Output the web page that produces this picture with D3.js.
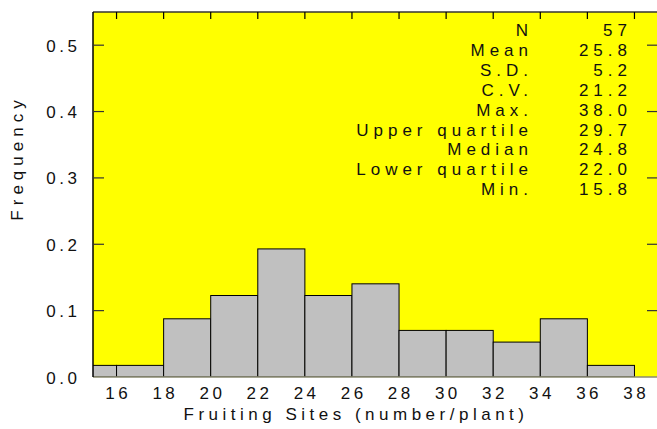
<!DOCTYPE html>
<html>
<head>
<meta charset="utf-8">
<script src="https://cdn.jsdelivr.net/npm/d3@7"></script>
<style>
  body { margin: 0; background: #fff; }
  svg { display: block; font-family: "Liberation Sans", Arial, sans-serif; }
</style>
</head>
<body>
<script>
// histogram bins (lower edges) and relative frequencies, N = 57
const binStart = [14, 16, 18, 20, 22, 24, 26, 28, 30, 32, 34, 36];
const binWidth = 2;
const freq = [0.0175, 0.0175, 0.0877, 0.1228, 0.193, 0.1228, 0.1404, 0.0702, 0.0702, 0.0526, 0.0877, 0.0175];
const xTicks = [16, 18, 20, 22, 24, 26, 28, 30, 32, 34, 36, 38];
const yTicks = [0, 0.1, 0.2, 0.3, 0.4, 0.5];
const statLabels = ["N", "Mean", "S.D.", "C.V.", "Max.", "Upper quartile", "Median", "Lower quartile", "Min."];
const statValues = ["57", "25.8", "5.2", "21.2", "38.0", "29.7", "24.8", "22.0", "15.8"];

const W = 657, H = 429;
const pL = 93, pR = 658, pT = 12, pB = 377;

const x = d3.scaleLinear().domain([15, 39]).range([pL, pR]);
const y = d3.scaleLinear().domain([0, 0.55]).range([pB, pT]);

const svg = d3.select("body").append("svg")
  .attr("width", W).attr("height", H);

svg.append("defs").append("clipPath").attr("id", "plot")
  .append("rect").attr("x", pL).attr("y", pT)
  .attr("width", pR - pL).attr("height", pB - pT);

svg.append("rect")
  .attr("x", pL).attr("y", pT)
  .attr("width", pR - pL).attr("height", pB - pT)
  .attr("fill", "#ffff00");

const bars = binStart.map((b, i) => ({ x0: b, x1: b + binWidth, f: freq[i] }));

svg.append("g").attr("clip-path", "url(#plot)")
  .selectAll("rect")
  .data(bars)
  .enter()
  .append("rect")
  .attr("x", d => x(d.x0))
  .attr("y", d => y(d.f))
  .attr("width", d => x(d.x1) - x(d.x0))
  .attr("height", d => y(0) - y(d.f))
  .attr("fill", "#c0c0c0")
  .attr("stroke", "#000")
  .attr("stroke-width", 1);

// frame lines
svg.append("line").attr("x1", pL).attr("x2", pR).attr("y1", pT).attr("y2", pT)
  .attr("stroke", "#333").attr("stroke-width", 1.5);
svg.append("line").attr("x1", pL).attr("x2", pR).attr("y1", pB).attr("y2", pB)
  .attr("stroke", "#8a8a70").attr("stroke-width", 1.5);
svg.append("line").attr("x1", pL).attr("x2", pL).attr("y1", pT).attr("y2", pB)
  .attr("stroke", "#000").attr("stroke-width", 1.5);

// top ticks (inward)
svg.append("g").selectAll("line").data(xTicks).enter().append("line")
  .attr("x1", d => x(d)).attr("x2", d => x(d))
  .attr("y1", pT).attr("y2", pT + 7)
  .attr("stroke", "#000").attr("stroke-width", 1.2);

// left and right ticks (inward)
svg.append("g").selectAll("line").data(yTicks.filter(d => d > 0)).enter().append("line")
  .attr("x1", pL).attr("x2", pL + 11)
  .attr("y1", d => y(d)).attr("y2", d => y(d))
  .attr("stroke", "#333").attr("stroke-width", 1.2);
svg.append("g").selectAll("line").data(yTicks.filter(d => d > 0)).enter().append("line")
  .attr("x1", pR - 11).attr("x2", pR)
  .attr("y1", d => y(d)).attr("y2", d => y(d))
  .attr("stroke", "#333").attr("stroke-width", 1.2);

const fs = 17;
const ls = 3.5;
svg.append("g").selectAll("text").data(yTicks).enter().append("text")
  .attr("x", 77 + ls).attr("y", d => y(d) + 6.5)
  .attr("text-anchor", "end")
  .attr("font-size", fs).attr("letter-spacing", ls)
  .attr("fill", "#111")
  .text(d => d3.format(".1f")(d));

svg.append("g").selectAll("text").data(xTicks).enter().append("text")
  .attr("x", d => x(d) + ls / 2).attr("y", 399)
  .attr("text-anchor", "middle")
  .attr("font-size", fs).attr("letter-spacing", ls)
  .attr("fill", "#111")
  .text(d => d);

svg.append("text")
  .attr("x", 356).attr("y", 420)
  .attr("text-anchor", "middle")
  .attr("font-size", fs).attr("letter-spacing", 4.5)
  .attr("fill", "#111")
  .text("Fruiting Sites (number/plant)");

svg.append("text")
  .attr("transform", "translate(23,158) rotate(-90)")
  .attr("text-anchor", "middle")
  .attr("font-size", fs).attr("letter-spacing", 5)
  .attr("fill", "#111")
  .text("Frequency");

// stats block
const sls = 5;
const stats = svg.append("g");
stats.selectAll("text.lab").data(statLabels).enter().append("text")
  .attr("class", "lab")
  .attr("x", 528 + sls).attr("y", (d, i) => 36 + i * 19.9)
  .attr("text-anchor", "end")
  .attr("font-size", fs).attr("letter-spacing", sls)
  .attr("fill", "#111")
  .text(d => d);
stats.selectAll("text.val").data(statValues).enter().append("text")
  .attr("class", "val")
  .attr("x", 627 + sls).attr("y", (d, i) => 36 + i * 19.9)
  .attr("text-anchor", "end")
  .attr("font-size", fs).attr("letter-spacing", sls)
  .attr("fill", "#111")
  .text(d => d);
</script>
</body>
</html>
